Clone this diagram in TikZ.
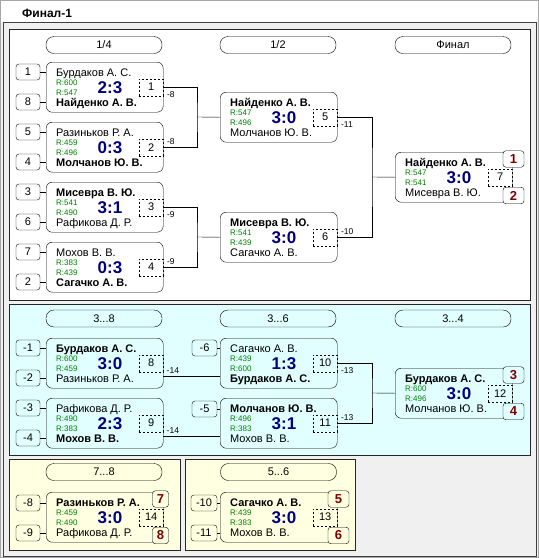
\documentclass[tikz,border=0pt]{standalone}
\usepackage{fontspec}
\setmainfont{Liberation Sans}
\usepackage{tikz}
\definecolor{navy}{HTML}{000080}
\definecolor{rgreen}{HTML}{008000}
\definecolor{placered}{HTML}{800000}
\definecolor{winbg}{HTML}{F0F0F0}
\definecolor{cyanbg}{HTML}{E1FFFF}
\definecolor{yellowbg}{HTML}{FFFFE1}
\definecolor{frame}{HTML}{404040}
% one match: name, x, y, top player, rating, bottom player, rating, score, number
\newcommand\match[9]{%
\begin{scope}[shift={(#2,#3)}]
\node[mbox,anchor=north west] (#1) at (0,0) {};
\node[pname] at (10,14) {#4};\node[rate] at (10,23) {R:#5};
\node[rate] at (10,33.5) {R:#7};\node[pname] at (10,44) {#6};
\node[score] at (64,31) {#8};
\node[mno,anchor=east] (#1-no) at (#1.east) {#9};
\coordinate (#1-b) at (0,38);\coordinate (#1-be) at (117,38);
\end{scope}}

\begin{document}
\begin{tikzpicture}[x=1pt,y=-1pt,
  mbox/.style={draw,rounded corners=6pt,minimum width=117pt,minimum height=50pt,inner sep=0pt},
  pname/.style={anchor=base west,inner sep=0pt,font=\fontsize{11}{13}\selectfont},
  rate/.style={anchor=base west,inner sep=0pt,text=rgreen,font=\fontsize{8}{9}\selectfont},
  score/.style={anchor=base,inner sep=0pt,text=navy,font=\bfseries\fontsize{17}{20}\selectfont},
  mno/.style={draw,dash pattern=on 2pt off 2pt,minimum width=24pt,minimum height=17pt,inner sep=0pt,font=\fontsize{11}{13}\selectfont},
  seed/.style={draw,rounded corners=3pt,minimum width=24pt,minimum height=16pt,inner sep=0pt,font=\fontsize{11}{13}\selectfont},
  place/.style={draw,rounded corners=3pt,minimum width=21pt,minimum height=16.5pt,inner sep=0pt,text=placered,font=\bfseries\fontsize{13}{15}\selectfont},
  head/.style={draw,rounded corners=8pt,minimum width=116pt,minimum height=17pt,inner sep=0pt,font=\fontsize{11}{13}\selectfont},
  lbl/.style={inner sep=1pt,font=\fontsize{8.5}{10}\selectfont},
  lbldown/.style={lbl,anchor=north west,xshift=2.5pt,yshift=-3pt},
  lblup/.style={lbl,anchor=south west,xshift=2.5pt,yshift=1pt},
  panel/.style={draw=black!85}]
% window and panels
\fill[winbg] (0,0) rectangle (539,558);
\draw[black!35] (0.5,0.5) rectangle (538.5,557.5);
\fill[white] (1,1) rectangle (538,22);
\draw[frame] (3,22) rectangle (536.5,556);
\node[anchor=base west,inner sep=0pt,font=\bfseries\fontsize{12}{14}\selectfont] (title) at (22,17) {Финал-1};
\draw[panel,fill=white] (9,29) rectangle (530,300);
\draw[panel,fill=cyanbg] (9,304) rectangle (530,455);
\draw[panel,fill=yellowbg] (9,459) rectangle (180,550);
\draw[panel,fill=yellowbg] (185,459) rectangle (355,550);
% round headers
\node[head] (h1) at (104,45) {1/4};\node[head] (h2) at (278,45) {1/2};\node[head] (h3) at (453,45) {Финал};
\node[head] (h4) at (104,318.5) {3...8};\node[head] (h5) at (278,318.5) {3...6};\node[head] (h6) at (453,318.5) {3...4};
\node[head] (h7) at (104,472) {7...8};\node[head] (h8) at (278.5,472) {5...6};
% matches
\match{m1}{46}{62}{Бурдаков А. С.}{600}{\textbf{Найденко А. В.}}{547}{2:3}{1}
\match{m2}{46}{122}{Разиньков Р. А.}{459}{\textbf{Молчанов Ю. В.}}{496}{0:3}{2}
\match{m3}{46}{182}{\textbf{Мисевра В. Ю.}}{541}{Рафикова Д. Р.}{490}{3:1}{3}
\match{m4}{46}{242}{Мохов В. В.}{383}{\textbf{Сагачко А. В.}}{439}{0:3}{4}
\match{m5}{220}{92}{\textbf{Найденко А. В.}}{547}{Молчанов Ю. В.}{496}{3:0}{5}
\match{m6}{220}{212}{\textbf{Мисевра В. Ю.}}{541}{Сагачко А. В.}{439}{3:0}{6}
\match{m7}{395}{152}{\textbf{Найденко А. В.}}{547}{Мисевра В. Ю.}{541}{3:0}{7}
\match{m8}{46}{338}{\textbf{Бурдаков А. С.}}{600}{Разиньков Р. А.}{459}{3:0}{8}
\match{m9}{46}{398}{Рафикова Д. Р.}{490}{\textbf{Мохов В. В.}}{383}{2:3}{9}
\match{m10}{220}{338}{Сагачко А. В.}{439}{\textbf{Бурдаков А. С.}}{600}{1:3}{10}
\match{m11}{220}{398}{\textbf{Молчанов Ю. В.}}{496}{Мохов В. В.}{383}{3:1}{11}
\match{m12}{395}{368}{\textbf{Бурдаков А. С.}}{600}{Молчанов Ю. В.}{496}{3:0}{12}
\match{m14}{46}{492}{\textbf{Разиньков Р. А.}}{459}{Рафикова Д. Р.}{490}{3:0}{14}
\match{m13}{220}{492}{\textbf{Сагачко А. В.}}{439}{Мохов В. В.}{383}{3:0}{13}
% places
\node[place,fill=white] (p1) at (513.5,159) {1};\node[place,fill=white] (p2) at (513.5,195.5) {2};
\node[place,fill=cyanbg] (p3) at (513.5,375) {3};\node[place,fill=cyanbg] (p4) at (513.5,411.5) {4};
\node[place,fill=yellowbg,minimum width=16pt] (p7) at (160.5,499) {7};\node[place,fill=yellowbg,minimum width=16pt] (p8) at (160.5,535.5) {8};
\node[place,fill=yellowbg] (p5) at (338.5,499) {5};\node[place,fill=yellowbg] (p6) at (338.5,535.5) {6};
% seeds
\foreach \s/\m/\d in {1/m1/10,8/m1/40,5/m2/10,4/m2/40,3/m3/10,6/m3/40,7/m4/10,2/m4/40,-1/m8/10,-2/m8/40,-3/m9/10,-4/m9/40,-8/m14/11,-9/m14/41}
  {\node[seed] (s\s) at ([yshift=-\d pt]\m.north west) [xshift=-18pt] {\s};\draw (s\s) -- (\m.west |- s\s);}
\node[seed,minimum width=25pt] (s-6) at (204.5,348) {-6};\draw (s-6) -- (m10.west |- s-6);
\node[seed,minimum width=25pt] (s-5) at (204.5,409) {-5};\draw (s-5) -- (m11.west |- s-5);
\node[seed,minimum width=26pt] (s-10) at (204,503) {-10};\draw (s-10) -- (m13.west |- s-10);
\node[seed,minimum width=26pt] (s-11) at (204,533) {-11};\draw (s-11) -- (m13.west |- s-11);
% brackets
\coordinate (j1) at (197,117);\coordinate (j2) at (197,237);\coordinate (j3) at (372,177);\coordinate (j4) at (372,393);
\draw (m1.east) -| (j1) |- (m2.east);\draw (j1) -- (m5.west);
\draw (m3.east) -| (j2) |- (m4.east);\draw (j2) -- (m6.west);
\draw (m5.east) -| (j3) |- (m6.east);\draw (j3) -- (m7.west);
\draw (m8-be) -- (m10-b);\draw (m9-be) -- (m11-b);
\draw (m10.east) -| (j4) |- (m11.east);\draw (j4) -- (m12.west);
% loser labels
\node[lbldown] at (m1.east) {-8};\node[lblup] at (m2.east) {-8};
\node[lbldown] at (m3.east) {-9};\node[lblup] at (m4.east) {-9};
\node[lbldown] at (m5.east) {-11};\node[lblup] at (m6.east) {-10};
\node[lblup] at (m8-be) {-14};\node[lblup] at (m9-be) {-14};
\node[lbldown] at (m10.east) {-13};\node[lblup] at (m11.east) {-13};
\end{tikzpicture}
\end{document}
